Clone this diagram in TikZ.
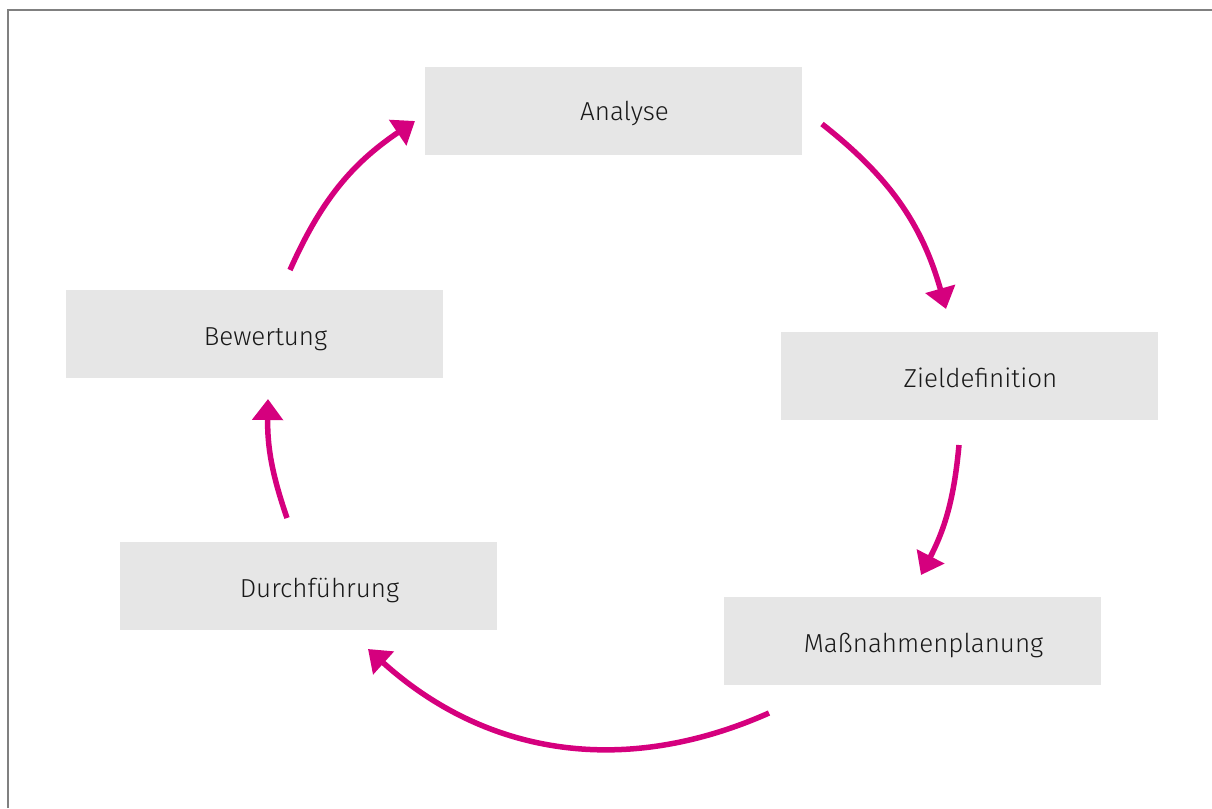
\documentclass[tikz,border=0pt]{standalone}
\usepackage{fontspec}
\setmainfont{Fira Sans}[UprightFont=* Light]
\usetikzlibrary{arrows.meta}
\definecolor{boxgray}{RGB}{230,230,230}
\definecolor{framegray}{RGB}{128,128,128}
\definecolor{mag}{RGB}{213,0,126}
\tikzset{
  stepbox/.style={fill=boxgray, draw=none, minimum width=377pt, minimum height=88pt, inner sep=0pt},
  steplabel/.style={font=\fontsize{26}{31}\selectfont, text=black!90, inner sep=0pt, anchor=base},
  cyc/.style={draw=mag, line width=5.5pt, -{Triangle[width=30pt,length=21pt]}}
}
\begin{document}
\begin{tikzpicture}[x=1pt,y=-1pt]
\useasboundingbox (0,0) rectangle (1212,808);
\draw[framegray, line width=2pt] (7.5,808) -- (7.5,10.5) -- (1212,10.5);

\node[stepbox] (ana) at (613.5,111) {};
\node[stepbox] (ziel) at (969.5,376) {};
\node[stepbox] (mass) at (912.5,641) {};
\node[stepbox] (durch) at (308.5,586) {};
\node[stepbox] (bew) at (254.5,334) {};

\node[steplabel] (anat) at ([xshift=11pt,yshift=-9pt]ana.center) {Analyse};
\node[steplabel] (zielt) at ([xshift=11pt,yshift=-11pt]ziel.center) {Zieldefinition};
\node[steplabel] (masst) at ([xshift=11pt,yshift=-11pt]mass.center) {Maßnahmenplanung};
\node[steplabel] (durcht) at ([xshift=11pt,yshift=-11pt]durch.center) {Durchführung};
\node[steplabel] (bewt) at ([xshift=11pt,yshift=-11pt]bew.center) {Bewertung};

\coordinate (a1) at (822,124);  \coordinate (a2) at (946,309);
\coordinate (b1) at (959,445);  \coordinate (b2) at (921,575);
\coordinate (c1) at (769,713);  \coordinate (c2) at (368,649);
\coordinate (d1) at (287,518);  \coordinate (d2) at (268,399);
\coordinate (e1) at (290,270);  \coordinate (e2) at (415,121);

\draw[cyc] (a1) to[bend left=18] (a2);
\draw[cyc] (b1) to[bend left=11] (b2);
\draw[cyc] (c1) to[bend left=33] (c2);
\draw[cyc] (d1) to[bend left=10] (d2);
\draw[cyc] (e1) to[bend left=16] (e2);
\end{tikzpicture}
\end{document}
